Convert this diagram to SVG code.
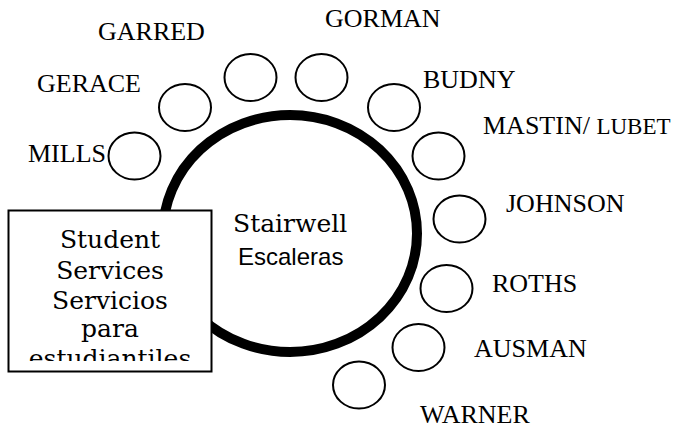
<svg xmlns="http://www.w3.org/2000/svg" width="688" height="433" viewBox="0 0 688 433">
<style>
.seat{fill:#fff;stroke:#000;stroke-width:2}
.name{font-family:"Liberation Serif","Times New Roman",serif;font-size:26px;fill:#000}
.cs{font-family:"DejaVu Serif",serif;font-size:25px;fill:#000}
.sans{font-family:"Liberation Sans",Arial,sans-serif;font-size:24px;fill:#000}
</style>
<defs>
<clipPath id="boxclip"><rect x="9" y="211" width="202" height="150"/></clipPath>
</defs>
<rect width="688" height="433" fill="#fff"/>
<g id="stairwell">
<ellipse cx="290" cy="233.5" rx="127" ry="118.5" fill="none" stroke="#000" stroke-width="10"/>
<text class="cs" x="233" y="232">Stairwell</text>
<text class="sans" x="238" y="265">Escaleras</text>
</g>
<g id="mills"><ellipse class="seat" cx="134.5" cy="156" rx="26" ry="23.5"/><text class="name" x="28" y="162">MILLS</text></g>
<g id="gerace"><ellipse class="seat" cx="185" cy="107.5" rx="26" ry="23.5"/><text class="name" x="37" y="92">GERACE</text></g>
<g id="garred"><ellipse class="seat" cx="250.5" cy="77.5" rx="26" ry="23.5"/><text class="name" x="98" y="40">GARRED</text></g>
<g id="gorman"><ellipse class="seat" cx="321.5" cy="77.5" rx="26" ry="23.5"/><text class="name" x="325" y="27">GORMAN</text></g>
<g id="budny"><ellipse class="seat" cx="394" cy="107.5" rx="26" ry="23.5"/><text class="name" x="423" y="88">BUDNY</text></g>
<g id="mastin-lubet"><ellipse class="seat" cx="438.5" cy="156" rx="26" ry="23.5"/><text class="name" x="483" y="134">MASTIN/ <tspan font-size="23">LUBET</tspan></text></g>
<g id="johnson"><ellipse class="seat" cx="459.5" cy="219" rx="26" ry="23.5"/><text class="name" x="506" y="212">JOHNSON</text></g>
<g id="roths"><ellipse class="seat" cx="446.5" cy="288.5" rx="26" ry="23.5"/><text class="name" x="492" y="292">ROTHS</text></g>
<g id="ausman"><ellipse class="seat" cx="418.5" cy="347.5" rx="26" ry="23.5"/><text class="name" x="474" y="357">AUSMAN</text></g>
<g id="warner"><ellipse class="seat" cx="359" cy="385" rx="26" ry="23.5"/><text class="name" x="420" y="423">WARNER</text></g>
<g id="student-services">
<rect x="8.5" y="210.5" width="203" height="161" fill="#fff" stroke="#000" stroke-width="2"/>
<g clip-path="url(#boxclip)" text-anchor="middle">
<text class="cs" x="110" y="248">Student</text>
<text class="cs" x="110" y="279">Services</text>
<text class="cs" x="110" y="309">Servicios</text>
<text class="cs" x="110" y="337">para</text>
<text class="cs" x="110" y="367">estudiantiles</text>
</g>
</g>
</svg>
